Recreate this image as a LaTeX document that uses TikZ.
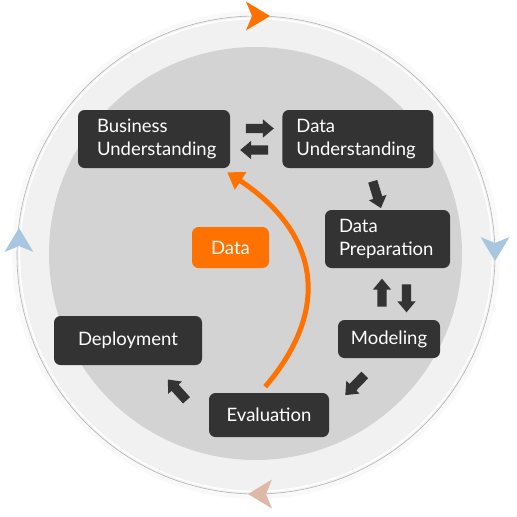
\documentclass[tikz,border=0pt]{standalone}
\usepackage{fontspec}
\setmainfont{Lato}
\usetikzlibrary{positioning,arrows.meta,shapes.arrows}
\definecolor{phasegray}{HTML}{333333}
\definecolor{discgray}{HTML}{D3D3D3}
\definecolor{bandgray}{HTML}{F1F1F1}
\definecolor{ringgray}{HTML}{B4B4B4}
\definecolor{haloGray}{HTML}{F9F9F9}
\definecolor{dataorange}{HTML}{FF7200}
\definecolor{cycleblue}{HTML}{A8C6E0}
\definecolor{cycletan}{HTML}{DEBAA6}
\tikzset{
	crisp/.style={x=1pt,y=-1pt},
	phase/.style={rounded corners=6.5pt,fill=phasegray,text=white,inner sep=0pt,
		font=\fontsize{18.5}{23}\selectfont},
	twoline/.style={phase,align=left,inner xsep=14pt,minimum height=58pt},
	oneline/.style={phase,align=center},
	flow/.style={single arrow,fill=phasegray,inner sep=4.5pt,minimum height=28pt,
		single arrow head extend=4.5pt,single arrow tip angle=80},
	dataflow/.style={-{Triangle[width=20pt,length=16pt]},draw=dataorange,line width=5pt},
	cyclehead/.pic={\fill[pic actions] (0,0) -- (-24,14.5) -- (-18,0) -- (-24,-14.5) -- cycle;}
}

\begin{document}
\begin{tikzpicture}[crisp]
\useasboundingbox[fill=white] (0,0) rectangle (517,517);

% the cycle ring
\fill[haloGray] (256,255) circle (244);
\filldraw[fill=bandgray,draw=ringgray,line width=0.6pt] (256,255) circle (239);
\draw[white,line width=1.5pt] (256,255) circle (236.5);
\fill[discgray] (255.5,253.5) circle (206.5);

\pic[fill=dataorange] at (270,16) {cyclehead};
\pic[fill=cycleblue,rotate=-90] at (495,261) {cyclehead};
\pic[fill=cycletan,rotate=180] at (248,494) {cyclehead};
\pic[fill=cycleblue,rotate=90] at (19,228) {cyclehead};

% phases
\node[twoline,text width=114pt,inner xsep=19pt] (bu) at (154,139) {Business\\Understanding};
\node[twoline,text width=123pt] (du) [right=52pt of bu] {Data\\Understanding};
\node[twoline,text width=97pt] (dp) at (387.5,239) {Data\\Preparation};
\node[oneline,minimum width=102pt,minimum height=38pt] (mo) at (389,339) {Modeling};
\node[oneline,minimum width=120pt,minimum height=44pt] (ev) at (269,415) {Evaluation};
\node[oneline,minimum width=148pt,minimum height=49pt] (de) at (128,340.5) {Deployment};
\node[oneline,fill=dataorange,minimum width=77pt,minimum height=41pt] (data) at (230.5,247.5) {Data};

% block arrows between phases
\node[flow] (bu2du) at (257,128.5) {};
\node[flow,rotate=180] (du2bu) at (257,150) {};
\node[flow,rotate=-73] (du2dp) at (376,192) {};
\node[flow,rotate=90] (mo2dp) at (382,295.5) {};
\node[flow,rotate=-90] (dp2mo) at (406.5,295.5) {};
\node[flow,rotate=-134] (mo2ev) at (357,383) {};
\node[flow,rotate=132] (ev2de) at (179,392) {};

\draw[dataflow,shorten <=8pt] ([xshift=-9pt]ev.north) .. controls (335,305) and (315,230) .. ([shift={(-3,4)}]bu.south east);
\end{tikzpicture}
\end{document}
